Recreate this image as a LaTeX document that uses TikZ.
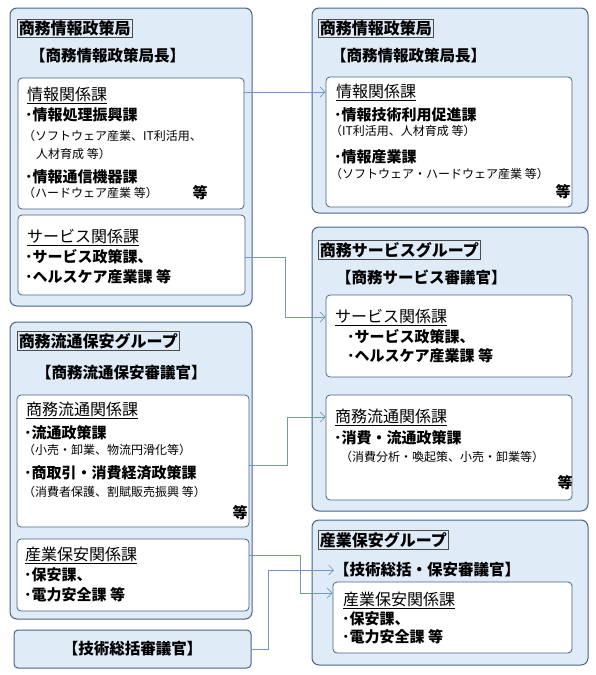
\documentclass[tikz,border=0pt]{standalone}
\usepackage{fontspec}
\setmainfont{Noto Sans CJK JP}
\usetikzlibrary{arrows.meta,positioning}
\definecolor{edgeblue}{RGB}{72,100,135}
\definecolor{paleblue}{RGB}{223,235,246}
\definecolor{linkblue}{RGB}{115,150,195}

\begin{document}
\begin{tikzpicture}[x=1pt, y=-1pt,
  group/.style={draw=edgeblue, fill=paleblue, rounded corners=7pt, line width=1pt},
  unit/.style={draw=edgeblue, fill=white, rounded corners=4pt, line width=0.8pt},
  title/.style={draw=black!70, line width=0.5pt, inner sep=1.5pt, anchor=west, font=\fontsize{16}{16}\selectfont\bfseries},
  post/.style={anchor=west, inner sep=0pt, font=\fontsize{15.5}{16}\selectfont\bfseries},
  head/.style={anchor=west, inner sep=0pt, font=\fontsize{16}{16}\selectfont},
  item/.style={anchor=west, inner sep=0pt, font=\fontsize{15}{16}\selectfont\bfseries},
  note/.style={anchor=west, inner sep=0pt, font=\fontsize{12}{13}\selectfont},
  etc/.style={inner sep=0pt, font=\fontsize{15}{16}\selectfont\bfseries},
  link/.style={-{Straight Barb[length=5pt,width=10pt]}, linkblue, line width=0.7pt}]

  \useasboundingbox (0,0) rectangle (596,675);

  % Left: 商務情報政策局
  \node[group, minimum width=242pt, minimum height=298pt] (infoG) at (131,157) {};
  \node[title] (infoGt) at (17,28.5) {商務情報政策局};
  \node[post] (infoGp) at (30,56) {【商務情報政策局長】};
  \node[unit, minimum width=226pt, minimum height=131pt] (infoL) at (131,143.5) {};
  \node[head] (infoLh) at (27,95) {\underline{情報関係課}};
  \node[item] (infoLa) at (25,115) {･情報処理振興課};
  \node[note] (infoLan) at (23,136) {（ソフトウェア産業、IT利活用、};
  \node[note] (infoLan2) at (36,154) {人材育成 等）};
  \node[item] (infoLb) at (25,177) {･情報通信機器課};
  \node[note] (infoLbn) at (23,193) {（ハードウェア産業 等）};
  \node[etc] (infoLe) at (200,193) {等};
  \node[unit, minimum width=227pt, minimum height=80pt] (svcL) at (131.5,255) {};
  \node[head] (svcLh) at (27,237) {\underline{サービス関係課}};
  \node[item] (svcLa) at (25,257) {･サービス政策課、};
  \node[item] (svcLb) at (25,277) {･ヘルスケア産業課 等};

  % Left: 商務流通保安グループ
  \node[group, minimum width=242pt, minimum height=297pt] (distG) at (131,470.5) {};
  \node[title] (distGt) at (17,341) {商務流通保安グループ};
  \node[post] (distGp) at (36,373) {【商務流通保安審議官】};
  \node[unit, minimum width=232pt, minimum height=132pt] (distL) at (133,461) {};
  \node[head] (distLh) at (26,410) {\underline{商務流通関係課}};
  \node[item] (distLa) at (24,433) {･流通政策課};
  \node[note] (distLan) at (23,450) {（小売・卸業、物流円滑化等）};
  \node[item] (distLb) at (24,473) {･商取引・消費経済政策課};
  \node[note] (distLbn) at (23,492) {（消費者保護、割賦販売振興 等）};
  \node[etc] (distLe) at (240,513) {等};
  \node[unit, minimum width=232pt, minimum height=72pt] (safeL) at (133,575) {};
  \node[head] (safeLh) at (25,555) {\underline{産業保安関係課}};
  \node[item] (safeLa) at (24,575) {･保安課、};
  \node[item] (safeLb) at (24,595) {･電力安全課 等};

  % Left: 技術総括審議官
  \node[group, rounded corners=4pt, minimum width=237pt, minimum height=38pt, font=\fontsize{15.5}{16}\selectfont\bfseries] (techL) at (132.5,649) {【技術総括審議官】};

  % Right: 商務情報政策局
  \node[group, minimum width=276pt, minimum height=205pt] (infoRG) at (450,110.5) {};
  \node[title] (infoRGt) at (318,28.5) {商務情報政策局};
  \node[post] (infoRGp) at (331,56) {【商務情報政策局長】};
  \node[unit, minimum width=246pt, minimum height=130pt] (infoR) at (449,142) {};
  \node[head] (infoRh) at (336,92) {\underline{情報関係課}};
  \node[item] (infoRa) at (334,115) {･情報技術利用促進課};
  \node[note] (infoRan) at (330,131) {（IT利活用、人材育成 等）};
  \node[item] (infoRb) at (334,157) {･情報産業課};
  \node[note] (infoRbn) at (330,174) {（ソフトウェア・ハードウェア産業 等）};
  \node[etc] (infoRe) at (563,192) {等};

  % Right: 商務サービスグループ
  \node[group, minimum width=276pt, minimum height=284pt] (svcRG) at (450,369) {};
  \node[title] (svcRGt) at (318,250) {商務サービスグループ};
  \node[post] (svcRGp) at (336,277) {【商務サービス審議官】};
  \node[unit, minimum width=246pt, minimum height=82pt] (svcR) at (449,336) {};
  \node[head] (svcRh) at (335,317) {\underline{サービス関係課}};
  \node[item] (svcRa) at (347,337) {･サービス政策課、};
  \node[item] (svcRb) at (347,356) {･ヘルスケア産業課 等};
  \node[unit, minimum width=246pt, minimum height=105pt] (distR) at (449,447.5) {};
  \node[head] (distRh) at (335,417) {\underline{商務流通関係課}};
  \node[item] (distRa) at (334,438) {･消費・流通政策課};
  \node[note] (distRan) at (340,457) {（消費分析・喚起策、小売・卸業等）};
  \node[etc] (distRe) at (565,483) {等};

  % Right: 産業保安グループ
  \node[group, minimum width=276pt, minimum height=145pt] (safeRG) at (450,592.5) {};
  \node[title] (safeRGt) at (318,540) {産業保安グループ};
  \node[post] (safeRGp) at (334,570) {【技術総括・保安審議官】};
  \node[unit, minimum width=239pt, minimum height=71pt] (safeR) at (452.5,617.5) {};
  \node[head] (safeRh) at (343,600) {\underline{産業保安関係課}};
  \node[item] (safeRa) at (342,619) {･保安課、};
  \node[item] (safeRb) at (342,637) {･電力安全課 等};

  % Links
  \draw[link] (infoL.east |- infoRh) -- (infoR.west |- infoRh);
  \draw[link] (svcL.east |- svcLa) -- ++(40,0) |- (svcR.west |- svcRh);
  \draw[link] ([yshift=-4pt]distL.east) -- ++(38,0) |- (distR.west |- distRh);
  \draw[link] (safeL.east |- safeLh) -- ++(51,0) |- ([yshift=7pt]safeR.west |- safeRh);
  \draw[link] (techL.east) -- ++(17,0) |- (safeRGp.west);

\end{tikzpicture}
\end{document}
